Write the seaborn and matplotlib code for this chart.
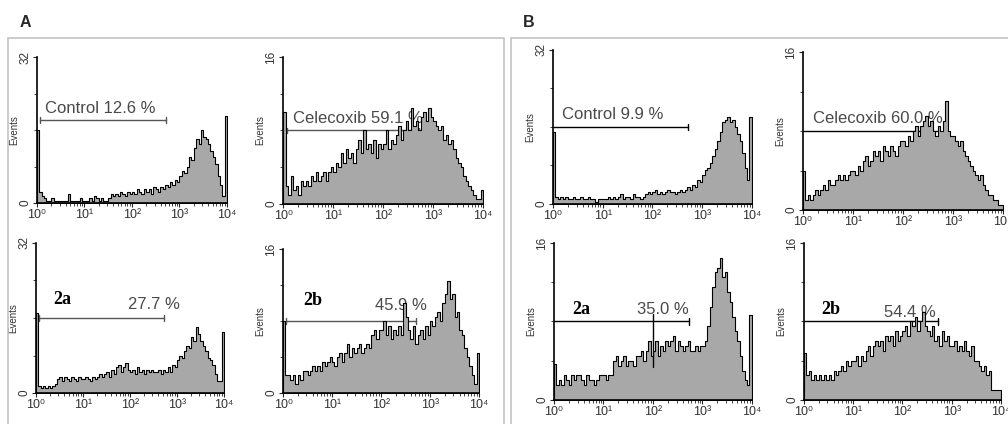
import numpy as np
import pandas as pd
import matplotlib
matplotlib.use("Agg")
import matplotlib.pyplot as plt
import seaborn as sns
from matplotlib.patches import Rectangle

sns.set_style("white")
plt.rcParams['font.family'] = ['Liberation Sans', 'DejaVu Sans']

# events per channel, 20 channels per decade, 10^0 .. 10^4
a_control = [16, 2.5, 1.5, 1, 0.5, 0.5, 1, 0.5, 0.5, 0.5, 0.5, 0.5, 0.5, 2, 0.5, 0.5, 0.5, 0.5, 1, 0.5,
             0.5, 0.5, 1, 0.5, 1.5, 1, 0.5, 1, 0.5, 0.5, 1, 2, 1.5, 2, 1.5, 2.5, 2, 1.5, 2.5, 2,
             2.5, 2, 3, 2.5, 2, 3, 2.5, 3, 2, 3.5, 3, 2.5, 3.5, 3, 4, 3.5, 4.5, 4, 5, 4.5,
             6, 7, 6.5, 8, 10, 9.5, 12, 14, 13, 16, 14.5, 14, 13, 11.5, 10, 8.5, 6, 4, 1.5, 19]
a_celecoxib = [10, 2, 1, 3, 1.5, 2, 1, 2.5, 2, 2.5, 2, 3, 2.5, 3.5, 2.5, 3, 3.5, 2.5, 3.5, 4,
               3.5, 4.5, 4, 5.5, 4.5, 6, 5, 5.5, 4.5, 6, 7, 5.5, 8, 6, 6.5, 5.5, 7, 5, 6.5, 6,
               6.5, 8, 6, 7, 6.5, 7.5, 8.5, 7, 8, 9, 8, 10.5, 8.5, 9, 8, 9.5, 10, 9, 10.5, 9.5,
               9, 8.5, 8, 8.5, 7, 7.5, 6.5, 7, 6, 5, 4.5, 4, 3, 2.5, 2, 1.5, 1, 0.5, 0.5, 1.5]
a_2a = [17, 1.5, 1, 1.5, 1, 1.5, 1, 1.5, 2, 3, 3.5, 2.5, 3.5, 3, 2.5, 3.5, 3, 2.5, 3.5, 3,
        3, 3.5, 3, 2.5, 3.5, 3, 3.5, 4, 3.5, 4, 4.5, 3.5, 5, 4, 5.5, 6, 4.5, 5.5, 6.5, 5,
        4.5, 5, 4, 5.5, 4.5, 5, 4, 5, 4.5, 5, 4.5, 4.5, 5, 4, 5, 4.5, 5.5, 4.5, 6, 5.5,
        7, 8, 7.5, 9, 10, 9.5, 12, 11, 14, 12.5, 11, 10, 9, 7.5, 7, 6, 4, 2.5, 2.5, 13]
a_2b = [8, 2, 2, 1.5, 2, 1, 2, 1.5, 2.5, 2.5, 2, 2.5, 3, 2.5, 3, 2.5, 3.5, 3, 3.5, 4,
        3.5, 3, 4, 4.5, 3.5, 4.5, 5.5, 4, 5, 4.5, 5, 5.5, 4.5, 5, 5.5, 5, 6.5, 7, 6, 7,
        7, 8, 6.5, 7.5, 6, 7, 6.5, 7.5, 6.5, 10, 8.5, 7, 6, 7.5, 5.5, 6.5, 7, 6, 7.5, 6.5,
        8, 7.5, 8.5, 9, 8, 10, 11, 12.5, 10.5, 11, 8.5, 9, 7, 6.5, 5, 4, 3, 2, 1, 4.5]
b_control = [15, 1.5, 1, 1.5, 1, 1.5, 1, 1, 1.5, 1, 1, 1.5, 1, 1, 1.5, 1, 1, 0.5, 1, 1,
             1, 1, 1.5, 1, 1.5, 1, 1.5, 2, 1, 1.5, 1.5, 1, 2, 1.5, 1.5, 1, 1.5, 2, 2.5, 2,
             2.5, 3, 2, 2.5, 2, 2.5, 3, 2.5, 2.5, 2, 2.5, 3, 2.5, 3, 3.5, 3, 4, 3.5, 5, 4.5,
             6, 7, 7.5, 8.5, 10, 11.5, 13, 15, 17, 17.5, 18, 17, 17.5, 16, 14.5, 13, 10.5, 7.5, 5, 18]
b_celecoxib = [4, 1, 1.5, 1, 1.5, 2, 1.5, 2, 2.5, 2, 3, 2.5, 2.5, 3, 3.5, 3, 3.5, 3, 3.5, 4,
               4, 3.5, 4.5, 4, 5, 5.5, 4.5, 5, 6, 5.5, 6, 5, 6.5, 6, 5.5, 6.5, 6, 5.5, 6.5, 7,
               7, 6.5, 7.5, 7, 8, 8.5, 7.5, 8.5, 9, 9.5, 8.5, 9, 8, 7.5, 8.5, 8, 9, 11, 8, 7.5,
               7.5, 7, 6.5, 7, 6, 5.5, 5, 4.5, 4, 3.5, 3, 3.5, 2.5, 2, 1.5, 1.5, 1, 1, 0.5, 0.5]
b_2a = [3.7, 1.5, 2, 1.5, 2.5, 2, 1.5, 2.5, 2, 2.5, 2.5, 2, 1.5, 2.5, 2, 2, 1.5, 2, 2.5, 2.5,
        2.5, 2, 2.5, 2.5, 4, 4.5, 3.5, 4, 4.5, 3.5, 4, 4, 3.5, 4.5, 4.5, 5, 4, 5, 6, 4.5,
        5, 6, 4.5, 5.5, 5, 6, 5.5, 6, 6.5, 5, 6, 5.5, 5, 5.5, 6, 5, 5, 5.5, 5, 5.5,
        5.5, 6, 7.5, 9.5, 11.5, 13, 13.5, 14.5, 12.5, 13, 11, 10, 8.5, 7, 6, 4.5, 3, 2, 1.5, 8.7]
b_2b = [4.8, 2.5, 3, 2, 2.5, 2, 2.5, 2, 2.5, 2, 2.5, 2, 3, 2.5, 3, 3.5, 3, 4, 3.5, 4,
        4, 4.5, 3.5, 4.5, 4, 5, 5.5, 4.5, 5.5, 6, 5.5, 6, 5, 6.5, 6, 6.5, 5.5, 7, 6, 6.5,
        7, 7.5, 6.5, 8, 7.5, 8.5, 7, 8, 9, 7.5, 7, 6.5, 7.5, 6, 6.5, 5.5, 7, 6, 6.5, 5.5,
        5.5, 6, 5, 5.5, 5, 6, 5, 4.5, 5.5, 4, 4, 3.5, 3, 3.5, 2.5, 3, 1, 1, 1, 1]

gate_labels = ["Control 12.6 %", "Celecoxib 59.1 %", "27.7 %", "45.9 %",
               "Control 9.9 %", "Celecoxib 60.0 %", "35.0 %", "54.4 %"]
tags = [None, None, "2a", "2b", None, None, "2a", "2b"]
y_max = [32, 16, 32, 16, 32, 16, 16, 16]
counts = [a_control, a_celecoxib, a_2a, a_2b, b_control, b_celecoxib, b_2a, b_2b]

channels = (np.arange(80) + 0.5) / 20  # log10 channel centres

# axes rectangles (figure fraction) and annotation placement
rects = [[0.0367, 0.5212, 0.1885, 0.3443], [0.2808, 0.5189, 0.1984, 0.3467],
         [0.0357, 0.0731, 0.1865, 0.3538], [0.2808, 0.0731, 0.1944, 0.3396],
         [0.5486, 0.5189, 0.1974, 0.3632], [0.7966, 0.5047, 0.1984, 0.3726],
         [0.5496, 0.0566, 0.1964, 0.3703], [0.7976, 0.0566, 0.1954, 0.3703]]
# (label x, label y frac, ha, tag x, tag y frac)
label_pos = [(0.16, 0.645, 'left', None, None), (0.2, 0.58, 'left', None, None),
             (2.52, 0.59, 'center', 0.37, 0.62), (2.41, 0.61, 'center', 0.41, 0.64),
             (0.19, 0.58, 'left', None, None), (0.2, 0.58, 'left', None, None),
             (2.2, 0.575, 'center', 0.36, 0.575), (2.15, 0.56, 'center', 0.36, 0.575)]

fig = plt.figure(figsize=(10.08, 4.24), dpi=100)

# panel frames
fig.patches.append(Rectangle((0.0079, -0.02), 0.4921, 0.9304, transform=fig.transFigure,
                             fill=False, edgecolor='#c4c4c4', linewidth=1.2))
fig.patches.append(Rectangle((0.507, -0.02), 0.51, 0.9304, transform=fig.transFigure,
                             fill=False, edgecolor='#c4c4c4', linewidth=1.2))
fig.text(0.019, 0.948, "A", fontsize=11.5, fontweight='bold', va='center', ha='left')
fig.text(0.519, 0.948, "B", fontsize=11.5, fontweight='bold', va='center', ha='left')

minor_x = [k + np.log10(m) for k in range(4) for m in range(2, 10)]

for i in range(8):
    ax = fig.add_axes(rects[i])
    ax.set_facecolor('none')
    df = pd.DataFrame({"channel": channels, "events": np.asarray(counts[i], dtype=float)})
    sns.histplot(data=df, x="channel", weights="events", binwidth=0.05, binrange=(0, 4),
                 element='step', fill=True, color='#a8a8a8', edgecolor='black',
                 linewidth=0.8, alpha=1, ax=ax, zorder=2)
    ym = y_max[i]
    ax.set_xlim(0, 4)
    ax.set_ylim(0, ym)
    sns.despine(ax=ax)
    for s in ['left', 'bottom']:
        ax.spines[s].set_color('black')
        ax.spines[s].set_linewidth(1.2)
    ax.set_xticks(range(5))
    ax.set_xticklabels(["10⁰", "10¹", "10²", "10³", "10⁴"], fontsize=9, color='#333333')
    ax.set_xticks(minor_x, minor=True)
    ax.set_yticks([0, ym])
    ax.set_yticklabels(["0", str(ym)], rotation=90, va='center', fontsize=8.5, color='#333333')
    ax.set_yticks([ym / 4, ym / 2, 3 * ym / 4], minor=True)
    ax.tick_params(axis='both', which='major', direction='out', length=3, width=0.8, pad=1,
                   bottom=True, left=True)
    ax.tick_params(axis='both', which='minor', direction='out', length=2, width=0.6,
                   bottom=True, left=True)
    ax.set_xlabel("")
    ax.set_ylabel("Events", fontsize=7, color='#333333', labelpad=0)

    panel_a = i < 4
    gate_color = '#555555' if panel_a else 'black'
    gy = ym / 2 + (ym * 0.07 if i == 0 else 0)
    gx0 = 0.07 if panel_a else 0.0
    ax.plot([gx0, 2.72], [gy, gy], color=gate_color, linewidth=1, zorder=1)
    cap = ym * 0.02
    ax.plot([2.72, 2.72], [gy - cap, gy + cap], color=gate_color, linewidth=1, zorder=1)
    if panel_a:
        ax.plot([gx0, gx0], [gy - cap, gy + cap], color=gate_color, linewidth=1, zorder=1)

    lx, lyf, ha, tx, tyf = label_pos[i]
    ax.text(lx, lyf * ym, gate_labels[i], fontsize=12, color='#4a4a4a', ha=ha, va='center',
            zorder=1)
    if tags[i]:
        ax.text(tx, tyf * ym, tags[i], fontsize=13, fontweight='bold', family='Liberation Serif',
                color='black', ha='left', va='center', zorder=3)

# extra gate marker in panel B 2a
fig.axes[6].plot([2.0, 2.0], [3.4, 8.8], color='black', linewidth=1, zorder=3)

fig.savefig("out.png", dpi=100)
